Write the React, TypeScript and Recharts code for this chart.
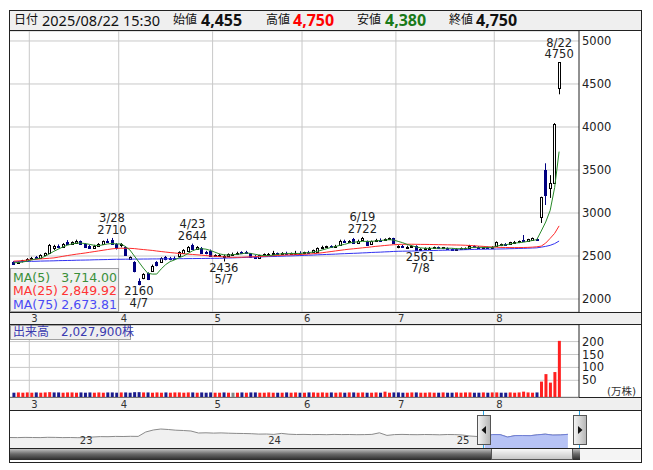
import {
  Area,
  Bar,
  CartesianGrid,
  Cell,
  ComposedChart,
  Line,
  ReferenceDot,
  ReferenceLine,
  XAxis,
  YAxis,
} from "recharts";

const LATIN = "'DejaVu Sans', Verdana, sans-serif";
const HEAD = "'Noto Sans', 'Noto Sans CJK JP', sans-serif";
const JP = "'DejaVu Sans', 'Noto Sans CJK JP', sans-serif";

// daily candles, 2025/02/25 .. 2025/08/22 (one entry per trading day)
const opens = [
  2430, 2415, 2440, 2445, 2470, 2485, 2480, 2515, 2540, 2590,
  2620, 2600, 2660, 2645, 2650, 2670, 2640, 2615, 2595, 2620,
  2640, 2680, 2690, 2640, 2625, 2610, 2465, 2430, 2210, 2250,
  2300, 2330, 2430, 2435, 2490, 2475, 2480, 2500, 2535, 2560,
  2625, 2580, 2595, 2545, 2560, 2505, 2500, 2490, 2505, 2525,
  2530, 2545, 2550, 2530, 2490, 2480, 2510, 2515, 2525, 2530,
  2520, 2535, 2525, 2530, 2540, 2535, 2545, 2545, 2550, 2590,
  2605, 2615, 2610, 2630, 2680, 2670, 2700, 2655, 2685, 2670,
  2640, 2675, 2690, 2685, 2695, 2705, 2600, 2615, 2605, 2610,
  2615, 2570, 2585, 2590, 2595, 2600, 2590, 2595, 2580, 2575,
  2585, 2590, 2595, 2615, 2605, 2590, 2600, 2595, 2612, 2625,
  2640, 2640, 2655, 2665, 2690, 2675, 2690, 2700, 2957, 3500,
  3290, 3350, 4455,
];
const highs = [
  2440, 2440, 2455, 2475, 2490, 2500, 2520, 2540, 2640, 2630,
  2635, 2650, 2685, 2670, 2690, 2680, 2650, 2630, 2630, 2650,
  2680, 2700, 2710, 2650, 2650, 2615, 2495, 2440, 2240, 2300,
  2310, 2400, 2440, 2485, 2500, 2490, 2495, 2555, 2580, 2615,
  2644, 2615, 2605, 2560, 2575, 2520, 2525, 2515, 2530, 2540,
  2550, 2555, 2560, 2535, 2510, 2515, 2530, 2535, 2560, 2540,
  2545, 2550, 2540, 2560, 2555, 2550, 2560, 2575, 2600, 2620,
  2620, 2625, 2630, 2690, 2690, 2685, 2710, 2690, 2722, 2680,
  2680, 2700, 2705, 2705, 2715, 2712, 2625, 2630, 2620, 2625,
  2625, 2590, 2600, 2605, 2610, 2610, 2605, 2600, 2590, 2590,
  2600, 2600, 2630, 2625, 2615, 2605, 2610, 2615, 2670, 2645,
  2650, 2665, 2675, 2680, 2744, 2700, 2715, 2710, 3190, 3578,
  3440, 4045, 4750,
];
const lows = [
  2405, 2410, 2425, 2440, 2460, 2465, 2475, 2505, 2535, 2570,
  2590, 2595, 2640, 2635, 2645, 2630, 2605, 2585, 2590, 2610,
  2635, 2655, 2630, 2575, 2600, 2500, 2455, 2310, 2160, 2230,
  2220, 2320, 2380, 2425, 2450, 2450, 2460, 2495, 2525, 2550,
  2580, 2570, 2530, 2520, 2495, 2490, 2490, 2436, 2495, 2510,
  2520, 2530, 2535, 2480, 2470, 2475, 2500, 2505, 2515, 2510,
  2515, 2520, 2515, 2525, 2525, 2520, 2530, 2540, 2545, 2585,
  2595, 2600, 2600, 2625, 2660, 2655, 2640, 2650, 2680, 2620,
  2635, 2665, 2675, 2680, 2685, 2645, 2590, 2600, 2595, 2600,
  2565, 2561, 2575, 2580, 2585, 2585, 2580, 2570, 2565, 2565,
  2575, 2580, 2590, 2600, 2585, 2580, 2590, 2590, 2605, 2615,
  2625, 2635, 2645, 2650, 2665, 2665, 2680, 2680, 2884, 3093,
  3175, 3340, 4380,
];
const closes = [
  2410, 2435, 2450, 2470, 2480, 2475, 2510, 2530, 2630, 2620,
  2600, 2640, 2645, 2660, 2675, 2635, 2610, 2595, 2620, 2640,
  2670, 2660, 2640, 2590, 2645, 2515, 2488, 2320, 2175, 2290,
  2235, 2385, 2395, 2475, 2460, 2465, 2470, 2545, 2570, 2605,
  2585, 2605, 2540, 2530, 2505, 2510, 2515, 2505, 2525, 2525,
  2540, 2535, 2545, 2485, 2480, 2510, 2520, 2525, 2530, 2520,
  2535, 2525, 2530, 2540, 2535, 2545, 2540, 2570, 2590, 2610,
  2615, 2605, 2620, 2680, 2665, 2675, 2650, 2680, 2710, 2630,
  2670, 2690, 2685, 2700, 2705, 2655, 2615, 2605, 2610, 2615,
  2575, 2585, 2590, 2595, 2600, 2590, 2600, 2580, 2575, 2585,
  2590, 2595, 2620, 2605, 2590, 2600, 2595, 2610, 2665, 2640,
  2635, 2660, 2665, 2670, 2675, 2695, 2705, 2690, 3190, 3209,
  3345, 4040, 4750,
];
const ma5 = [
  2420, 2425, 2430, 2440, 2455, 2465, 2475, 2495, 2525, 2555,
  2580, 2605, 2625, 2640, 2650, 2650, 2645, 2635, 2625, 2620,
  2630, 2640, 2645, 2640, 2640, 2610, 2570, 2500, 2430, 2360,
  2300, 2290, 2290, 2350, 2400, 2435, 2455, 2480, 2500, 2530,
  2560, 2580, 2585, 2580, 2565, 2545, 2525, 2515, 2510, 2515,
  2520, 2525, 2535, 2530, 2520, 2510, 2505, 2505, 2510, 2520,
  2525, 2530, 2530, 2530, 2530, 2535, 2540, 2545, 2555, 2570,
  2585, 2600, 2610, 2625, 2635, 2650, 2660, 2665, 2670, 2670,
  2670, 2675, 2680, 2685, 2690, 2685, 2670, 2655, 2635, 2620,
  2605, 2595, 2590, 2590, 2590, 2590, 2590, 2590, 2590, 2585,
  2585, 2585, 2595, 2600, 2600, 2600, 2600, 2600, 2615, 2625,
  2630, 2640, 2650, 2655, 2660, 2670, 2680, 2690, 2790, 2895,
  3030, 3295, 3714,
];
const ma25 = [
  2440, 2443, 2447, 2452, 2457, 2462, 2466, 2470, 2474, 2478,
  2487, 2496, 2505, 2513, 2521, 2528, 2535, 2543, 2551, 2559,
  2567, 2575, 2583, 2588, 2590, 2590, 2589, 2586, 2580, 2575,
  2570, 2565, 2558, 2552, 2546, 2540, 2535, 2530, 2526, 2522,
  2518, 2514, 2510, 2505, 2500, 2497, 2493, 2490, 2487, 2485,
  2485, 2486, 2488, 2490, 2492, 2494, 2497, 2500, 2503, 2506,
  2509, 2512, 2514, 2516, 2518, 2520, 2523, 2527, 2532, 2538,
  2545, 2552, 2559, 2566, 2573, 2579, 2584, 2589, 2595, 2600,
  2606, 2612, 2617, 2622, 2627, 2631, 2634, 2636, 2637, 2637,
  2636, 2635, 2635, 2634, 2633, 2632, 2631, 2630, 2629, 2628,
  2627, 2625, 2622, 2619, 2615, 2612, 2608, 2605, 2602, 2600,
  2599, 2598, 2598, 2598, 2599, 2600, 2603, 2607, 2615, 2650,
  2705, 2763, 2850,
];
const ma75 = [
  2433, 2434, 2436, 2437, 2438, 2439, 2441, 2442, 2443, 2444,
  2446, 2447, 2448, 2449, 2451, 2452, 2453, 2454, 2456, 2457,
  2458, 2459, 2461, 2462, 2462, 2463, 2463, 2464, 2464, 2465,
  2465, 2466, 2466, 2467, 2467, 2468, 2468, 2469, 2469, 2470,
  2470, 2471, 2471, 2472, 2472, 2473, 2473, 2475, 2477, 2478,
  2480, 2482, 2484, 2486, 2487, 2489, 2491, 2493, 2494, 2496,
  2498, 2500, 2501, 2503, 2505, 2507, 2509, 2511, 2514, 2516,
  2518, 2520, 2522, 2525, 2527, 2529, 2531, 2533, 2536, 2538,
  2541, 2543, 2545, 2548, 2550, 2553, 2555, 2556, 2557, 2558,
  2559, 2560, 2562, 2563, 2564, 2566, 2567, 2568, 2570, 2571,
  2572, 2574, 2575, 2577, 2578, 2579, 2579, 2580, 2581, 2582,
  2583, 2585, 2586, 2588, 2589, 2591, 2593, 2595, 2603, 2612,
  2624, 2644, 2674,
];
// volume, 万株
const volumes = [
  2, 3, 2, 3, 2, 3, 2, 3, 4, 3,
  3, 2, 3, 3, 2, 3, 2, 3, 2, 3,
  2, 3, 3, 2, 3, 3, 2, 4, 4, 3,
  3, 2, 3, 2, 3, 2, 3, 3, 2, 3,
  3, 2, 3, 2, 3, 2, 2, 3, 2, 2,
  2, 3, 2, 3, 3, 2, 2, 3, 2, 2,
  2, 3, 2, 3, 2, 2, 3, 3, 2, 3,
  2, 3, 2, 3, 2, 3, 3, 2, 3, 2,
  2, 3, 2, 6, 2, 3, 3, 2, 2, 3,
  3, 2, 2, 3, 2, 2, 3, 2, 2, 3,
  2, 3, 3, 2, 2, 3, 2, 3, 3, 2,
  2, 3, 2, 3, 6, 3, 2, 3, 45, 74,
  41, 82, 202.79,
];

const monthStarts = [3.5, 23.5, 44.5, 64.5, 85.5, 107.5];
const monthNames = ["3", "4", "5", "6", "7", "8"];
const priceTicks = [2000, 2500, 3000, 3500, 4000, 4500, 5000];
const volumeTicks = [50, 100, 150, 200];
const marks = [
  { i: 22, v: 2710, d: "3/28", high: true },
  { i: 28, v: 2160, d: "4/7", high: false },
  { i: 40, v: 2644, d: "4/23", high: true },
  { i: 47, v: 2436, d: "5/7", high: false },
  { i: 78, v: 2722, d: "6/19", high: true },
  { i: 91, v: 2561, d: "7/8", high: false },
  { i: 122, v: 4750, d: "8/22", high: true },
];

// navigator: close every 10 trading days, 2022 .. 2025/08
const navValues = [
  2350, 2340, 2360, 2350, 2340, 2370, 2360, 2340, 2350, 2330,
  2340, 2400, 2440, 2430, 2460, 2450, 2470, 2460, 2900, 3100,
  3200, 3150, 3080, 3050, 3000, 2800, 2820, 2790, 2810, 2780,
  2760, 2750, 2730, 2690, 2700, 2660, 2760, 2680, 2650, 2660,
  2640, 2650, 2630, 2660, 2640, 2650, 2630, 2640, 2660, 2820,
  2560, 2640, 2660, 2640, 2630, 2650, 2640, 2620, 2650, 2640,
  2600, 2500, 2450, 2450, 2645, 2640, 2395, 2540, 2545, 2530,
  2620, 2685, 2590, 2605, 2665,
];
const navSelectedFrom = 63;
const navYears = [
  { j: 10.1, label: "23" },
  { j: 35.1, label: "24" },
  { j: 60.1, label: "25" },
];

const X_DOMAIN: [number, number] = [-0.817, 126.45];
const VOL_FLOOR = -14.7;

const UP = "#ff2020";
const DOWN = "#1c1c8c";
const CANDLE_DOWN = "#000080";

const rows = opens.map((o, i) => {
  const c = closes[i];
  const prev = i > 0 ? closes[i - 1] : o;
  return {
    i,
    o,
    h: highs[i],
    l: lows[i],
    c,
    ma5: ma5[i],
    ma25: ma25[i],
    ma75: ma75[i],
    v: volumes[i],
    vc: c > prev ? UP : c < prev ? DOWN : "#888888",
  };
});

const navRows = navValues.map((n, j) => ({
  j,
  n,
  s: j >= navSelectedFrom ? n : null,
}));

const Candle = (props: any) => {
  const { x, y, width, height, payload } = props;
  if (!payload || !Number.isFinite(y) || !Number.isFinite(x)) return null;
  const top = Math.min(y, y + height);
  const span = Math.abs(height);
  const { o, h, l, c } = payload;
  const toY = (v: number) => (h === l ? top : top + ((h - v) / (h - l)) * span);
  const cx = Math.round(x + width / 2) + 0.5;
  const up = c >= o;
  const color = up ? "#000" : CANDLE_DOWN;
  const b0 = Math.round(toY(Math.max(o, c))) + 0.5;
  const b1 = Math.round(toY(Math.min(o, c))) + 0.5;
  return (
    <g>
      <line x1={cx} x2={cx} y1={top} y2={top + span} stroke={color} strokeWidth={1} />
      <rect
        x={cx - 1}
        y={b0}
        width={2}
        height={Math.max(b1 - b0, 1)}
        fill={up ? "#fff" : CANDLE_DOWN}
        stroke={color}
        strokeWidth={1}
      />
    </g>
  );
};

const MarkLabel = ({ viewBox, date, value, high }: any) => {
  if (!viewBox) return null;
  const cx = viewBox.x + (viewBox.width || 0) / 2;
  const cy = viewBox.y + (viewBox.height || 0) / 2;
  const lines = high ? [date, String(value)] : [String(value), date];
  const y0 = high ? cy - 19.5 : cy + 6;
  return (
    <g>
      {lines.map((t: string, k: number) => (
        <text
          key={k}
          x={cx}
          y={y0 + k * 11.5}
          textAnchor="middle"
          dominantBaseline="central"
          fontSize={11.5}
          fontFamily={LATIN}
          fill="#222"
        >
          {t}
        </text>
      ))}
    </g>
  );
};

const MonthTick = ({ x, y, payload, dy }: any) => {
  const k = monthStarts.indexOf(payload.value);
  return (
    <text x={x + 2} y={y + dy} dominantBaseline="central" fontSize={10} fontFamily={LATIN} fill="#333">
      {monthNames[k]}
    </text>
  );
};

const YearLabel = ({ viewBox, text }: any) => {
  if (!viewBox) return null;
  return (
    <text
      x={viewBox.x}
      y={viewBox.y + viewBox.height - 8}
      textAnchor="middle"
      dominantBaseline="central"
      fontSize={10}
      fontFamily={LATIN}
      fill="#333"
    >
      {text}
    </text>
  );
};

const axisTick = { fontSize: 11.5, fontFamily: LATIN, fill: "#222" };

const abs = (left: number, top: number, width: number, height: number, extra: any = {}) => ({
  position: "absolute" as const,
  left,
  top,
  width,
  height,
  boxSizing: "border-box" as const,
  ...extra,
});

const headSpan = (left: number, extra: any = {}) => ({
  position: "absolute" as const,
  left,
  top: 10,
  height: 20,
  lineHeight: "20px",
  whiteSpace: "nowrap" as const,
  fontFamily: HEAD,
  fontSize: 12,
  color: "#111",
  ...extra,
});

const bold = { fontSize: 16, fontWeight: 700 };

export default function App() {
  return (
    <div style={abs(0, 0, 653, 470, { background: "#fff", overflow: "hidden" })}>
      {/* outer frame and header */}
      <div style={abs(9, 10, 633, 453, { border: "1px solid #222" })} />
      <div style={abs(9, 10, 633, 21, { background: "#efefef", border: "1px solid #222" })} />
      <span style={headSpan(14)}>日付</span>
      <span style={headSpan(42, { fontSize: 14.5 })}>2025/08/22 15:30</span>
      <span style={headSpan(173)}>始値</span>
      <span style={headSpan(201, bold)}>4,455</span>
      <span style={headSpan(266)}>高値</span>
      <span style={headSpan(293, { ...bold, color: "#ff0000" })}>4,750</span>
      <span style={headSpan(357)}>安値</span>
      <span style={headSpan(385, { ...bold, color: "#1a7a1a" })}>4,380</span>
      <span style={headSpan(449)}>終値</span>
      <span style={headSpan(476, bold)}>4,750</span>

      {/* label rows */}
      <div style={abs(10, 313, 631, 11, { background: "#efefef" })} />
      <div style={abs(10, 398, 631, 12, { background: "#efefef" })} />

      {/* price chart */}
      <div style={abs(10, 31, 631, 293)}>
        <ComposedChart width={631} height={293} data={rows} margin={{ top: 0, right: 0, bottom: 0, left: 0 }}>
          <CartesianGrid vertical={false} stroke="#c8c8c8" />
          {monthStarts.map((m) => (
            <ReferenceLine key={m} x={m} stroke="#c8c8c8" />
          ))}
          <XAxis
            dataKey="i"
            type="number"
            domain={X_DOMAIN}
            allowDataOverflow
            ticks={monthStarts}
            interval={0}
            height={12}
            axisLine={false}
            tickLine={false}
            tickSize={0}
            tickMargin={0}
            tick={<MonthTick dy={6.5} />}
          />
          <YAxis
            orientation="right"
            width={62}
            domain={[1849, 5116]}
            allowDataOverflow
            ticks={priceTicks}
            interval={0}
            axisLine={{ stroke: "#222" }}
            tickLine={false}
            tickSize={0}
            tickMargin={3}
            tick={axisTick}
          />
          <Bar
            dataKey={(d: any) => [d.l, d.h]}
            barSize={4}
            shape={(p: any) => <Candle {...p} />}
            isAnimationActive={false}
          />
          <Line dataKey="ma75" stroke="#3232f0" strokeWidth={1} dot={false} isAnimationActive={false} />
          <Line dataKey="ma25" stroke="#ff2a2a" strokeWidth={1} dot={false} isAnimationActive={false} />
          <Line dataKey="ma5" stroke="#2a8a2a" strokeWidth={1} dot={false} isAnimationActive={false} />
          {marks.map((m) => (
            <ReferenceDot
              key={m.d}
              x={m.i}
              y={m.v}
              r={0}
              fill="none"
              stroke="none"
              ifOverflow="visible"
              label={<MarkLabel date={m.d} value={m.v} high={m.high} />}
            />
          ))}
        </ComposedChart>
      </div>

      {/* panel borders */}
      <div style={abs(10, 312, 631, 1, { background: "#222" })} />
      <div style={abs(10, 324, 631, 1, { background: "#222" })} />
      <div style={abs(10, 397, 631, 1, { background: "#222" })} />
      <div style={abs(10, 410, 631, 1, { background: "#222" })} />

      {/* moving average legend */}
      <div
        style={abs(10, 268, 109, 44, {
          background: "rgba(238,238,238,0.85)",
          border: "1px solid #a0a0a0",
          fontFamily: LATIN,
          fontSize: 12.5,
          lineHeight: "13.3px",
          padding: "2px 1px 0 2px",
        })}
      >
        {[
          ["MA(5)", "3,714.00", "#3a8f3a"],
          ["MA(25)", "2,849.92", "#ff3434"],
          ["MA(75)", "2,673.81", "#4b4bf5"],
        ].map(([a, b, col]) => (
          <div key={a} style={{ display: "flex", justifyContent: "space-between", color: col }}>
            <span>{a}</span>
            <span>{b}</span>
          </div>
        ))}
      </div>

      {/* volume chart */}
      <div style={abs(10, 325, 631, 85)}>
        <ComposedChart width={631} height={85} data={rows} margin={{ top: 0, right: 0, bottom: 0, left: 0 }}>
          <CartesianGrid vertical={false} stroke="#c8c8c8" />
          {monthStarts.map((m) => (
            <ReferenceLine key={m} x={m} stroke="#c8c8c8" />
          ))}
          <XAxis
            dataKey="i"
            type="number"
            domain={X_DOMAIN}
            allowDataOverflow
            ticks={monthStarts}
            interval={0}
            height={13}
            axisLine={false}
            tickLine={false}
            tickSize={0}
            tickMargin={0}
            tick={<MonthTick dy={7} />}
          />
          <YAxis
            orientation="right"
            width={62}
            domain={[VOL_FLOOR, 264.3]}
            allowDataOverflow
            ticks={volumeTicks}
            interval={0}
            axisLine={{ stroke: "#222" }}
            tickLine={false}
            tickSize={0}
            tickMargin={3}
            tick={axisTick}
          />
          <Bar dataKey={(d: any) => [VOL_FLOOR, d.v]} barSize={3} isAnimationActive={false}>
            {rows.map((r) => (
              <Cell key={r.i} fill={r.vc} />
            ))}
          </Bar>
        </ComposedChart>
      </div>
      <div
        style={abs(10, 325, 121, 15, {
          background: "#efefef",
          border: "1px solid #a0a0a0",
          fontFamily: JP,
          fontSize: 12,
          lineHeight: "13px",
          color: "#3b3bb0",
          paddingLeft: 2,
          whiteSpace: "nowrap",
        })}
      >
        出来高　2,027,900株
      </div>
      <div style={abs(607, 383, 34, 14, { fontFamily: JP, fontSize: 10.5, color: "#333", whiteSpace: "nowrap" })}>
        (万株)
      </div>

      {/* navigator */}
      <div style={abs(10, 411, 631, 37)}>
        <ComposedChart width={631} height={37} data={navRows} margin={{ top: 0, right: 0, bottom: 0, left: 0 }}>
          <XAxis dataKey="j" type="number" domain={[0, 83.7]} allowDataOverflow hide />
          <YAxis domain={[1300, 5000]} allowDataOverflow hide />
          <Area
            dataKey="n"
            type="linear"
            stroke="#8a8a8a"
            strokeWidth={1}
            fill="#f0f0f0"
            fillOpacity={1}
            isAnimationActive={false}
          />
          <Area
            dataKey="s"
            type="linear"
            stroke="#6f7fd8"
            strokeWidth={1}
            fill="#b7c3f5"
            fillOpacity={1}
            isAnimationActive={false}
          />
          {navYears.map((y) => (
            <ReferenceLine key={y.label} x={y.j} stroke="none" label={<YearLabel text={y.label} />} />
          ))}
        </ComposedChart>
      </div>

      {/* navigator handles and scrollbar */}
      <svg style={abs(0, 0, 653, 470, { pointerEvents: "none" })} width={653} height={470}>
        <defs>
          <linearGradient id="track" x1="0" y1="0" x2="0" y2="1">
            <stop offset="0" stopColor="#d0d0d0" />
            <stop offset="0.5" stopColor="#6a6a6a" />
            <stop offset="1" stopColor="#2a2a2a" />
          </linearGradient>
          <linearGradient id="thumb" x1="0" y1="0" x2="0" y2="1">
            <stop offset="0" stopColor="#fbfbfb" />
            <stop offset="1" stopColor="#c4c4c4" />
          </linearGradient>
          <linearGradient id="handle" x1="0" y1="0" x2="1" y2="0">
            <stop offset="0" stopColor="#f6f6f6" />
            <stop offset="1" stopColor="#b4b4b4" />
          </linearGradient>
        </defs>
        <line x1={483.5} x2={483.5} y1={411} y2={448} stroke="#2aa6e6" />
        <line x1={579.5} x2={579.5} y1={411} y2={448} stroke="#2aa6e6" />
        <rect x={10} y={448} width={631} height={12} fill="#f4f4f4" />
        <rect x={10} y={448} width={481} height={12} fill="url(#track)" />
        <rect x={491.5} y={448.5} width={81} height={11} fill="url(#thumb)" stroke="#555" />
        <rect x={573} y={448} width={7} height={12} fill="url(#track)" />
        <line x1={10} x2={641} y1={448.5} y2={448.5} stroke="#222" />
        <rect x={477.5} y={415.5} width={13} height={29} fill="url(#handle)" stroke="#555" />
        <path d="M481.5 430 L486 426 L486 434 Z" fill="#111" />
        <rect x={573.5} y={415.5} width={13} height={29} fill="url(#handle)" stroke="#555" />
        <path d="M582.5 430 L578 426 L578 434 Z" fill="#111" />
      </svg>
    </div>
  );
}
